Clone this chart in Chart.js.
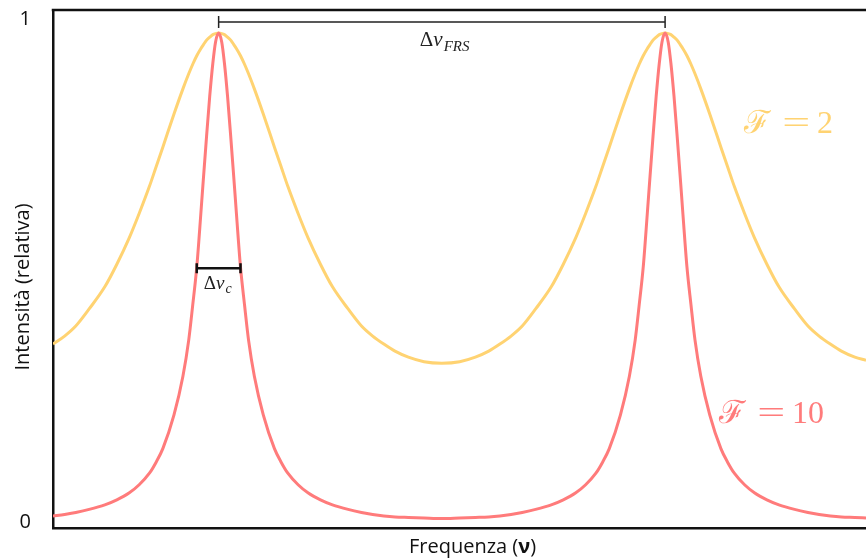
<!DOCTYPE html>
<html>
<head>
<meta charset="utf-8">
<title>Fabry-Perot</title>
<script src="https://cdn.jsdelivr.net/npm/chart.js@4.4.0/dist/chart.umd.min.js"></script>
<style>
    html, body { margin: 0; padding: 0; background: #ffffff; }
    #wrap { width: 866px; height: 558px; position: relative; }
</style>
</head>
<body>
<div id="wrap"><canvas id="fpChart"></canvas></div>
<script>
// Frequency samples, in units of the free spectral range (peaks at 1 and 2)
const frequency = [
    0.629, 0.655, 0.68, 0.71, 0.745, 0.772, 0.8, 0.822, 0.845, 0.86, 0.875, 0.9, 0.92, 0.933, 0.942, 0.951, 0.96, 0.966, 0.973, 0.98, 0.987, 0.993, 1.0,
    1.007, 1.013, 1.02, 1.027, 1.034, 1.04, 1.049, 1.058, 1.067, 1.08, 1.1, 1.125, 1.14, 1.155, 1.178, 1.2, 1.228, 1.255, 1.29, 1.32, 1.345, 1.37, 1.395, 1.425, 1.46, 1.5,
    1.54, 1.575, 1.605, 1.63, 1.655, 1.68, 1.71, 1.745, 1.772, 1.8, 1.822, 1.845, 1.86, 1.875, 1.9, 1.92, 1.933, 1.942, 1.951, 1.96, 1.966, 1.973, 1.98, 1.987, 1.993, 2.0,
    2.007, 2.013, 2.02, 2.027, 2.034, 2.04, 2.049, 2.058, 2.067, 2.08, 2.1, 2.125, 2.14, 2.155, 2.178, 2.2, 2.228, 2.255, 2.29, 2.32, 2.345, 2.37, 2.395, 2.425, 2.45
];

// Relative intensity, finesse 2 (yellow)
const intensityF2 = [
    0.354, 0.370, 0.390, 0.424, 0.468, 0.513, 0.566, 0.614, 0.668, 0.707, 0.746, 0.812, 0.862, 0.892, 0.911, 0.928, 0.942, 0.950, 0.959, 0.965, 0.970, 0.972, 0.973,
    0.972, 0.970, 0.965, 0.959, 0.950, 0.942, 0.928, 0.911, 0.892, 0.862, 0.812, 0.746, 0.707, 0.668, 0.614, 0.566, 0.513, 0.468, 0.424, 0.390, 0.370, 0.354, 0.340, 0.328, 0.319, 0.316,
    0.319, 0.328, 0.340, 0.354, 0.370, 0.390, 0.424, 0.468, 0.513, 0.566, 0.614, 0.668, 0.707, 0.746, 0.812, 0.862, 0.892, 0.911, 0.928, 0.942, 0.950, 0.959, 0.965, 0.970, 0.972, 0.973,
    0.972, 0.970, 0.965, 0.959, 0.950, 0.942, 0.928, 0.911, 0.892, 0.862, 0.812, 0.746, 0.707, 0.668, 0.614, 0.566, 0.513, 0.468, 0.424, 0.390, 0.370, 0.354, 0.340, 0.328, 0.322
];

// Relative intensity, finesse 10 (red)
const intensityF10 = [
    0.012, 0.015, 0.019, 0.025, 0.034, 0.044, 0.058, 0.074, 0.097, 0.119, 0.146, 0.213, 0.290, 0.362, 0.432, 0.507, 0.612, 0.685, 0.768, 0.847, 0.913, 0.955, 0.973,
    0.955, 0.913, 0.847, 0.768, 0.685, 0.612, 0.507, 0.432, 0.362, 0.290, 0.213, 0.146, 0.119, 0.097, 0.074, 0.058, 0.044, 0.034, 0.025, 0.019, 0.015, 0.012, 0.010, 0.009, 0.008, 0.007,
    0.008, 0.009, 0.010, 0.012, 0.015, 0.019, 0.025, 0.034, 0.044, 0.058, 0.074, 0.097, 0.119, 0.146, 0.213, 0.290, 0.362, 0.432, 0.507, 0.612, 0.685, 0.768, 0.847, 0.913, 0.955, 0.973,
    0.955, 0.913, 0.847, 0.768, 0.685, 0.612, 0.507, 0.432, 0.362, 0.290, 0.213, 0.146, 0.119, 0.097, 0.074, 0.058, 0.044, 0.034, 0.025, 0.019, 0.015, 0.012, 0.010, 0.009, 0.008
];

const yTicks = [0, 1];
const peakFreqs = [1, 2];
const halfWidth = 0.049;     // half of the linewidth bar, in FSR units
const halfLevel = 0.505;
const frsLevel = 0.995;

const YELLOW = '#ffd372';
const RED = '#ff7b7b';
const INK = '#111111';

function toPoints(xs, ys) {
    return xs.map((x, i) => ({ x: x, y: ys[i] }));
}

// Draw a subscripted math label like Δν_c, starting at x (left), baseline y
function drawMathLabel(ctx, x, y, sub, size) {
    ctx.textAlign = 'left';
    ctx.textBaseline = 'alphabetic';
    ctx.font = size + 'px "Liberation Serif"';
    ctx.fillText('Δ', x, y);
    x += ctx.measureText('Δ').width;
    ctx.font = 'italic ' + size + 'px "Liberation Serif"';
    ctx.fillText('ν', x, y);
    x += ctx.measureText('ν').width + 1;
    ctx.font = 'italic ' + Math.round(size * 0.72) + 'px "Liberation Serif"';
    ctx.fillText(sub, x, y + size * 0.22);
}

// Draw "ℱ = n" with a wide, thin equals sign (LaTeX look)
function drawFinesse(ctx, x, y, num, color) {
    ctx.fillStyle = color;
    ctx.textAlign = 'left';
    ctx.textBaseline = 'middle';
    ctx.font = '32px "Liberation Serif", "DejaVu Serif"';
    ctx.fillText('ℱ', x, y);
    ctx.save();
    ctx.translate(x + 52, y);
    ctx.scale(1.55, 1);
    ctx.textAlign = 'center';
    ctx.fillText('=', 0, 0);
    ctx.restore();
    ctx.fillText(num, x + 73, y);
}

const annotationsPlugin = {
    id: 'fpAnnotations',
    afterDraw(chart) {
        const ctx = chart.ctx;
        const xs = chart.scales.x;
        const ys = chart.scales.y;
        const area = chart.chartArea;
        ctx.save();

        // top frame line
        ctx.strokeStyle = INK;
        ctx.lineWidth = 2.5;
        ctx.beginPath();
        ctx.moveTo(area.left - 1.25, area.top);
        ctx.lineTo(area.right, area.top);
        ctx.stroke();

        // y tick labels
        ctx.fillStyle = INK;
        ctx.font = '20px "Open Sans"';
        ctx.textAlign = 'right';
        ctx.textBaseline = 'middle';
        yTicks.forEach(v => {
            ctx.fillText(String(v), area.left - 22, ys.getPixelForValue(v));
        });

        // free spectral range bracket
        const p1 = xs.getPixelForValue(peakFreqs[0]);
        const p2 = xs.getPixelForValue(peakFreqs[1]);
        const yf = ys.getPixelForValue(frsLevel);
        ctx.strokeStyle = '#222';
        ctx.lineWidth = 1.5;
        ctx.beginPath();
        ctx.moveTo(p1, yf);
        ctx.lineTo(p2, yf);
        ctx.moveTo(p1, yf - 6);
        ctx.lineTo(p1, yf + 6);
        ctx.moveTo(p2, yf - 6);
        ctx.lineTo(p2, yf + 6);
        ctx.stroke();
        ctx.fillStyle = '#222';
        drawMathLabel(ctx, (p1 + p2) / 2 - 22, yf + 24, 'FRS', 21);

        // linewidth bar at half maximum
        const b1 = xs.getPixelForValue(peakFreqs[0] - halfWidth);
        const b2 = xs.getPixelForValue(peakFreqs[0] + halfWidth);
        const yh = ys.getPixelForValue(halfLevel);
        ctx.strokeStyle = INK;
        ctx.lineWidth = 2.5;
        ctx.beginPath();
        ctx.moveTo(b1, yh);
        ctx.lineTo(b2, yh);
        ctx.moveTo(b1, yh - 5);
        ctx.lineTo(b1, yh + 5);
        ctx.moveTo(b2, yh - 5);
        ctx.lineTo(b2, yh + 5);
        ctx.stroke();
        ctx.fillStyle = '#222';
        drawMathLabel(ctx, b1 + 7, yh + 21, 'c', 19);

        // finesse labels
        drawFinesse(ctx, xs.getPixelForValue(2.177), ys.getPixelForValue(0.79), '2', YELLOW);
        drawFinesse(ctx, xs.getPixelForValue(2.121), ys.getPixelForValue(0.213), '10', RED);

        // axis titles
        ctx.fillStyle = INK;
        ctx.font = '20px "Open Sans"';
        ctx.textAlign = 'center';
        ctx.textBaseline = 'alphabetic';
        ctx.save();
        ctx.translate(29, (area.top + area.bottom) / 2 + 18);
        ctx.rotate(-Math.PI / 2);
        ctx.fillText('Intensità (relativa)', 0, 0);
        ctx.restore();

        const partA = 'Frequenza (';
        const partB = 'ν';
        const partC = ')';
        ctx.font = '20px "Open Sans"';
        const wA = ctx.measureText(partA).width;
        const wC = ctx.measureText(partC).width;
        ctx.font = 'bold 20px "Open Sans"';
        const wB = ctx.measureText(partB).width;
        const tx = (area.left + area.right) / 2 + 13 - (wA + wB + wC) / 2;
        const ty = chart.height - 5;
        ctx.textAlign = 'left';
        ctx.font = '20px "Open Sans"';
        ctx.fillText(partA, tx, ty);
        ctx.font = 'bold 20px "Open Sans"';
        ctx.fillText(partB, tx + wA, ty);
        ctx.font = '20px "Open Sans"';
        ctx.fillText(partC, tx + wA + wB, ty);

        ctx.restore();
    }
};

const ctx = document.getElementById('fpChart').getContext('2d');

new Chart(ctx, {
    type: 'line',
    data: {
        datasets: [{
            label: 'F = 10',
            data: toPoints(frequency, intensityF10),
            borderColor: RED,
            borderWidth: 3,
            pointRadius: 0,
            cubicInterpolationMode: 'monotone',
            fill: false
        }, {
            label: 'F = 2',
            data: toPoints(frequency, intensityF2),
            borderColor: YELLOW,
            borderWidth: 3,
            pointRadius: 0,
            cubicInterpolationMode: 'monotone',
            fill: false
        }]
    },
    options: {
        responsive: true,
        maintainAspectRatio: false,
        animation: false,
        layout: {
            padding: { left: 0, top: 10, right: 0, bottom: 0 }
        },
        plugins: {
            legend: { display: false },
            tooltip: { enabled: false }
        },
        scales: {
            x: {
                type: 'linear',
                min: 0.629,
                max: 2.45,
                ticks: { display: false },
                grid: { display: false, drawTicks: false },
                border: { display: true, color: INK, width: 2.5 },
                afterFit: (scale) => { scale.height = 30; }
            },
            y: {
                type: 'linear',
                min: -0.012,
                max: 1.019,
                ticks: { display: false },
                grid: { display: false, drawTicks: false },
                border: { display: true, color: INK, width: 2.5 },
                afterFit: (scale) => { scale.width = 53; }
            }
        }
    },
    plugins: [annotationsPlugin]
});
</script>
</body>
</html>
